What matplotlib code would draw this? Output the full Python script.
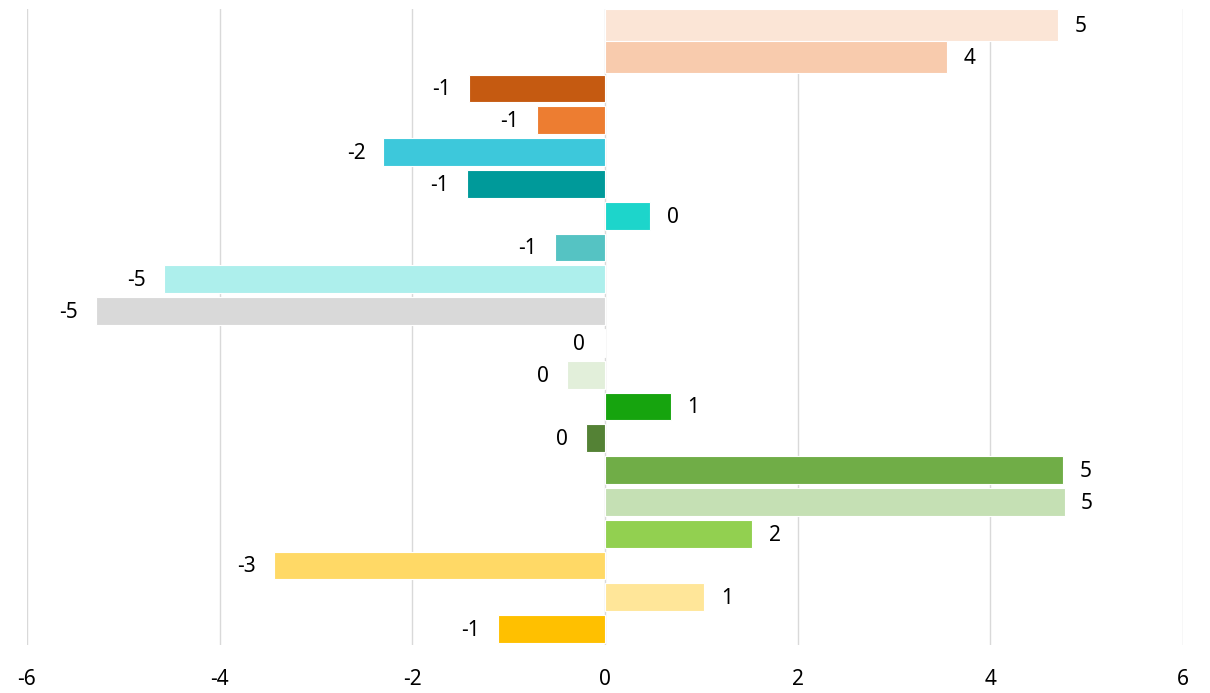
import numpy as np
import matplotlib
matplotlib.use("Agg")
import matplotlib.pyplot as plt

plt.rcParams['font.family'] = ['Noto Sans', 'DejaVu Sans']

# values, top row first
values = [4.70, 3.55, -1.41, -0.71, -2.30, -1.43, 0.47, -0.52, -4.58, -5.28,
          -0.02, -0.39, 0.68, -0.20, 4.75, 4.77, 1.53, -3.44, 1.03, -1.11]
colors = ['#FBE5D6', '#F8CBAD', '#C55A11', '#ED7D31', '#3DC8DB', '#009A9A',
          '#1DD5CB', '#55C3C3', '#ADEFEC', '#D9D9D9', '#FFFFFF', '#E2EFDA',
          '#16A40E', '#548235', '#70AD47', '#C5E0B4', '#92D050', '#FFD966',
          '#FFE699', '#FFC000']
xticks = [-6, -4, -2, 0, 2, 4, 6]

fig = plt.figure(figsize=(12.1, 6.93), dpi=100)
ax = fig.add_axes([27/1210, 48/693, (1183-27)/1210, (645-9)/693])

y = np.arange(len(values))
heights = [1.0, 1.0] + [0.88]*(len(values)-2)
ax.barh(y, values, height=heights, color=colors, edgecolor='white',
        linewidth=0.8, zorder=2)

for yi, v in zip(y, values):
    lab = str(int(round(v)))
    if v >= 0:
        ax.annotate(lab, (v, yi), xytext=(12, -1), textcoords='offset points',
                    ha='left', va='center', fontsize=15)
    else:
        ax.annotate(lab, (v, yi), xytext=(-13, -1), textcoords='offset points',
                    ha='right', va='center', fontsize=15)

ax.set_xlim(-6, 6)
ax.set_ylim(len(values) - 0.5, -0.5)
ax.set_xticks(xticks)
ax.set_xticklabels([str(t) for t in xticks], fontsize=15)
ax.set_yticks([])
ax.tick_params(axis='x', length=0, pad=17)
ax.grid(axis='x', color='#D9D9D9', linewidth=1, zorder=0)
for s in ax.spines.values():
    s.set_visible(False)

fig.savefig('out.png', dpi=100)
